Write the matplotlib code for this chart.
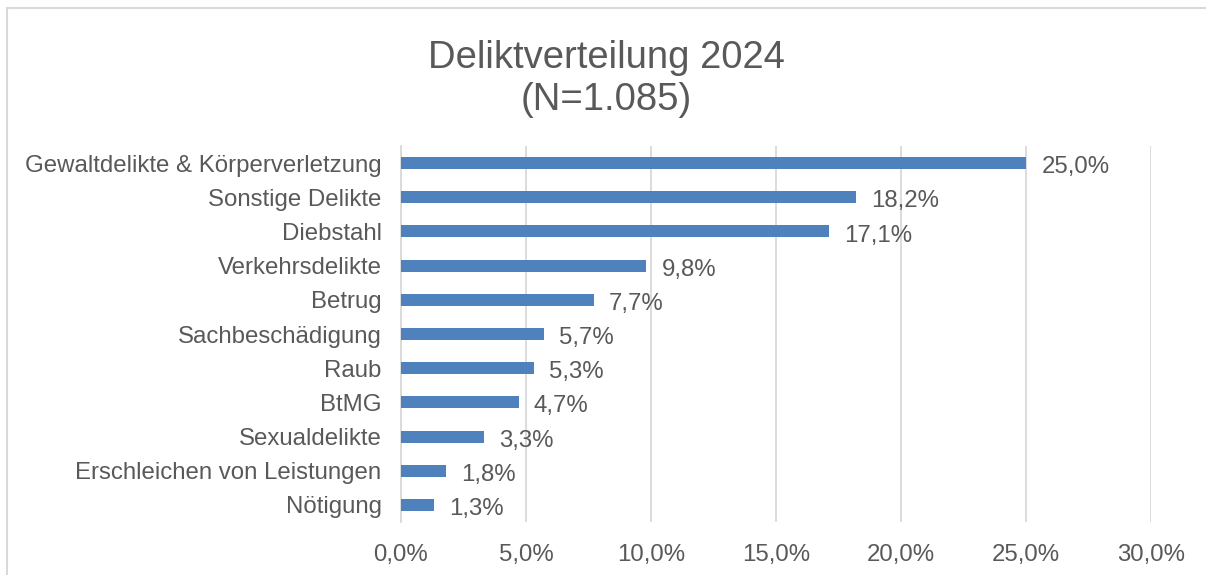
import matplotlib.pyplot as plt
from matplotlib.patches import Rectangle

plt.rcParams['font.family'] = ['Liberation Sans', 'DejaVu Sans']

# data (top to bottom as in the chart)
kategorien = ["Gewaltdelikte & Körperverletzung", "Sonstige Delikte", "Diebstahl",
              "Verkehrsdelikte", "Betrug", "Sachbeschädigung", "Raub", "BtMG",
              "Sexualdelikte", "Erschleichen von Leistungen", "Nötigung"]
anteile = [25.0, 18.2, 17.1, 9.8, 7.7, 5.7, 5.3, 4.7, 3.3, 1.8, 1.3]
xticks = [0, 5, 10, 15, 20, 25, 30]

grau = '#595959'
fs = 17.3
fig = plt.figure(figsize=(12.06, 5.75), dpi=100)
# plot area in pixels: x 401..1151, y 146..522
ax = fig.add_axes([401/1206, 1 - 522/575, 750/1206, 376/575])

pos = list(range(len(kategorien)))[::-1]
ax.barh(pos, anteile, height=0.35, color='#4F81BD', zorder=3)
for p, v in zip(pos, anteile):
    ax.text(v + 0.62, p - 0.12, f"{v:.1f}%".replace('.', ','), va='center', ha='left',
            fontsize=fs, color=grau)

ax.set_xlim(0, 30)
ax.set_ylim(-0.5, len(kategorien) - 0.5)
ax.set_xticks(xticks)
ax.set_xticklabels([f"{t:.1f}%".replace('.', ',') for t in xticks], fontsize=fs, color=grau)
ax.set_yticks(pos)
ax.set_yticklabels(kategorien, fontsize=fs, color=grau)
ax.tick_params(axis='x', length=0, pad=16)
ax.tick_params(axis='y', length=0, pad=14)
ax.xaxis.grid(True, color='#d9d9d9', linewidth=1.3, zorder=0)
for s in ['top', 'right', 'bottom']:
    ax.spines[s].set_visible(False)
ax.spines['left'].set_color('#d9d9d9')
ax.spines['left'].set_linewidth(1.3)

fig.text(606/1206, 1 - 79/575, "Deliktverteilung 2024\n(N=1.085)", ha='center', va='center',
         fontsize=27.5, color=grau, linespacing=1.2)

# chart border
fig.patches.append(Rectangle((7/1206, -0.01), 1.2, 1 - 8/575 + 0.01, transform=fig.transFigure,
                             fill=False, edgecolor='#d9d9d9', linewidth=1.5))

fig.savefig('out.png', dpi=100)
